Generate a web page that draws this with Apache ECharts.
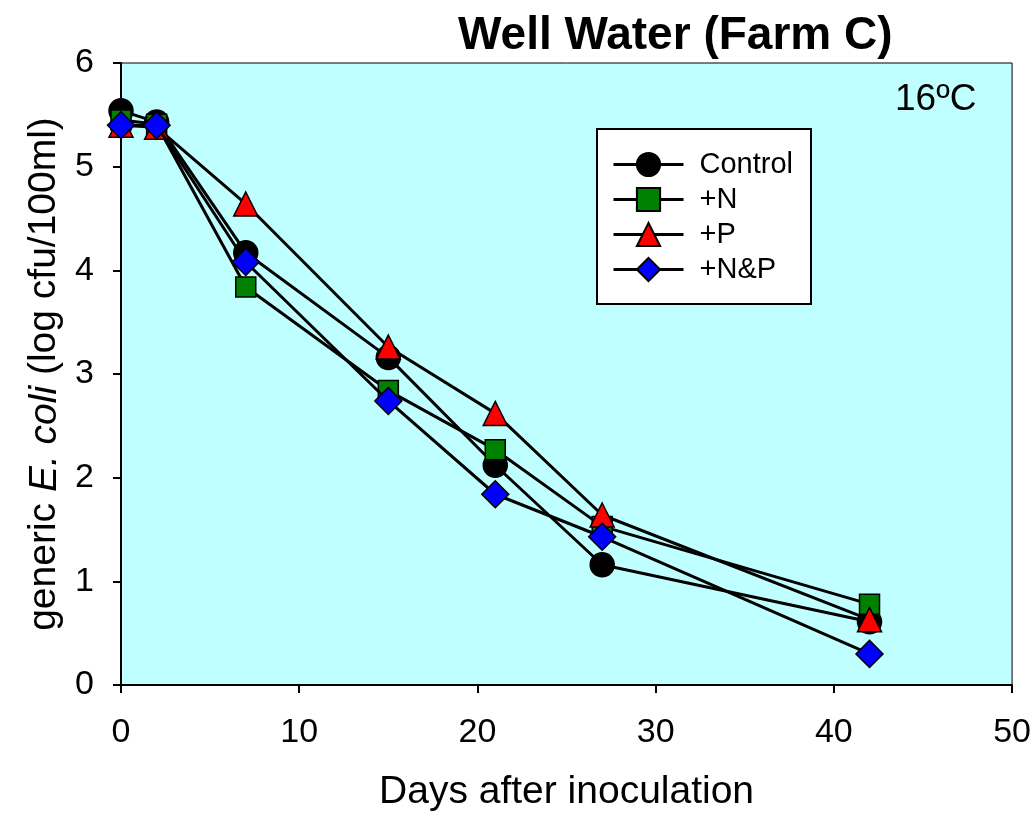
<!DOCTYPE html>
<html><head><meta charset="utf-8">
<script src="https://cdn.jsdelivr.net/npm/echarts@6/dist/echarts.min.js"></script>
<style>html,body{margin:0;padding:0;background:#fff}#c{width:1034px;height:817px}</style>
</head><body><div id="c"></div>
<script>
const days = [0, 2, 7, 15, 21, 27, 42];
const control = [5.54, 5.43, 4.17, 3.16, 2.12, 1.16, 0.61];
const plusN = [5.45, 5.41, 3.84, 2.84, 2.27, 1.53, 0.78];
const plusP = [5.40, 5.38, 4.64, 3.26, 2.62, 1.64, 0.63];
const plusNP = [5.40, 5.40, 4.08, 2.74, 1.84, 1.43, 0.30];
const seriesNames = ['Control', '+N', '+P', '+N&P'];
const xTicks = [0, 10, 20, 30, 40, 50];
const yTicks = [0, 1, 2, 3, 4, 5, 6];

const F = '"Liberation Sans", Arial, sans-serif';
const chart = echarts.init(document.getElementById('c'));
function pts(v){ return days.map((d,i)=>[d, v[i]]); }
const styles = [
  {symbol:'circle', size:24, color:'#000000'},
  {symbol:'rect', size:20, color:'#008000'},
  {symbol:'triangle', size:24, color:'#ff0000'},
  {symbol:'diamond', size:27, color:'#0000ff'}
];
const vals = [control, plusN, plusP, plusNP];
chart.setOption({
  animation:false,
  title:{text:'Well Water (Farm C)', left:453, top:8, textStyle:{fontFamily:F, fontSize:46, fontWeight:'bold', color:'#000'}},
  graphic:[{type:'text', left:895, top:81, style:{text:'16ºC', font:'37px '+F, fill:'#000'}}],
  grid:{left:121, right:21, top:63, bottom:130, show:true, backgroundColor:'#c0ffff', borderWidth:1, borderColor:'#000'},
  legend:{orient:'vertical', left:597, top:129, padding:[21,18,20,15],
    backgroundColor:'#fff', borderColor:'#000', borderWidth:2, borderRadius:0,
    itemWidth:70, itemHeight:29, itemGap:6,
    lineStyle:{width:3, color:'#000'},
    textStyle:{fontFamily:F, fontSize:29, color:'#000', padding:[0,0,0,11]},
    data:seriesNames},
  xAxis:{type:'value', min:0, max:50, interval:10,
    name:'Days after inoculation', nameLocation:'middle', nameGap:88,
    nameTextStyle:{fontFamily:F, fontSize:39, color:'#000'},
    axisLine:{lineStyle:{color:'#000', width:2}}, axisTick:{length:8, lineStyle:{color:'#000', width:2}},
    axisLabel:{fontFamily:F, fontSize:34, color:'#000', margin:31}, splitLine:{show:false}},
  yAxis:{type:'value', min:0, max:6, interval:1,
    name:'{a|generic }{b|E. coli}{a| (log cfu/100ml)}', nameLocation:'middle', nameGap:55, nameRotate:90,
    nameTextStyle:{rich:{a:{fontFamily:F, fontSize:39, color:'#000'}, b:{fontFamily:F, fontSize:39, color:'#000', fontStyle:'italic'}}},
    axisLine:{show:true, lineStyle:{color:'#000', width:2}}, axisTick:{show:true, length:8, lineStyle:{color:'#000', width:2}},
    axisLabel:{fontFamily:F, fontSize:34, color:'#000', margin:27}, splitLine:{show:false}},
  series: seriesNames.map((n,i)=>({
    name:n, type:'line', data:pts(vals[i]), symbol:styles[i].symbol, symbolSize:styles[i].size,
    lineStyle:{color:'#000', width:3}, itemStyle:{color:styles[i].color, borderColor:'#000', borderWidth:1.5},
    z: 2+i
  }))
});
</script></body></html>
